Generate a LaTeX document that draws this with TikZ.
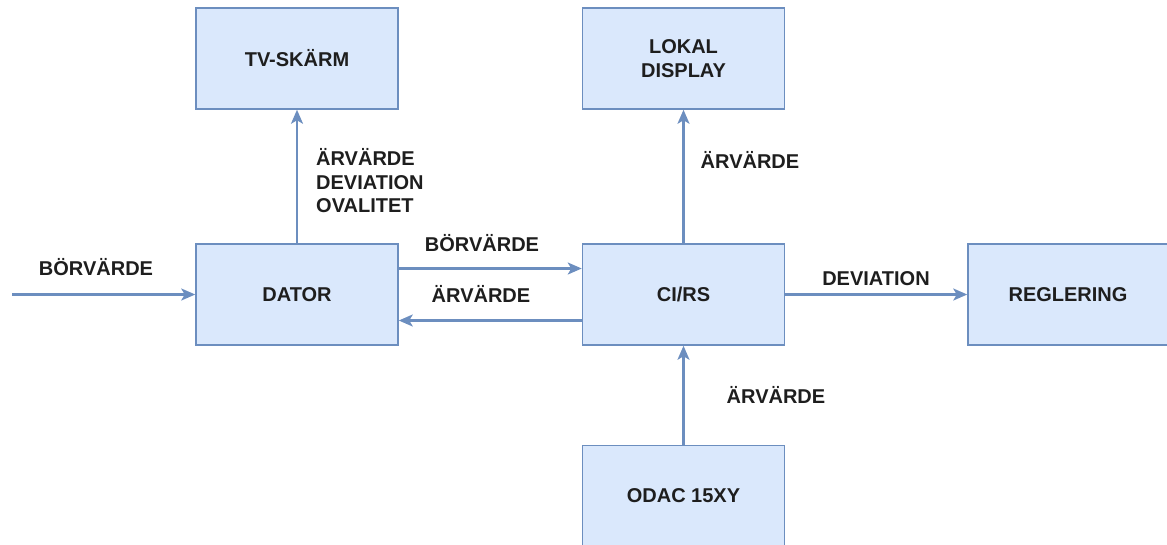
\documentclass[tikz,border=0pt]{standalone}
\usepackage{fontspec}
\setmainfont{Liberation Sans}
\usepackage{xcolor}
\usepackage{tikz}
\usetikzlibrary{arrows.meta}
\definecolor{boxfill}{HTML}{DAE8FC}
\definecolor{boxline}{HTML}{6C8EBF}
\definecolor{txt}{HTML}{1E1E1E}

\begin{document}
\begin{tikzpicture}[x=1pt,y=-1pt,
  box/.style={draw=boxline,fill=boxfill,line width=1.5pt,minimum width=202pt,
   minimum height=101pt,align=center,font=\fontsize{20}{24}\selectfont\bfseries,text=txt},
  flow/.style={draw=boxline,line width=2.2pt,-{Stealth[length=14pt,width=12pt,inset=3.5pt]}},
  lbl/.style={font=\fontsize{20}{23.5}\selectfont\bfseries,text=txt,inner sep=0pt,
   text height=14pt,text depth=0pt}]
 \useasboundingbox (0,0) rectangle (1167,544);
 \node[box] (tv) at (297,58.5) {TV-SKÄRM};
 \node[box] (lokal) at (683.5,58.5) {LOKAL\\DISPLAY};
 \node[box] (dator) at (297,294.5) {DATOR};
 \node[box] (cirs) at (683.5,294.5) {CI/RS};
 \node[box,minimum width=200pt] (regl) at (1068,294.5) {REGLERING};
 \node[box] (odac) at (683.5,496) {ODAC 15XY};
 \coordinate (in) at (12,294.5);
 % connectors
 \draw[flow] (in) -- (dator.west);
 \draw[flow] (dator.north) -- (tv.south);
 \draw[flow] (cirs.north) -- (lokal.south);
 \draw[flow] (odac.north) -- (cirs.south);
 \draw[flow] ([yshift=26pt]dator.east) -- ([yshift=26pt]cirs.west);
 \draw[flow] ([yshift=-26pt]cirs.west) -- ([yshift=-26pt]dator.east);
 \draw[flow] (cirs.east) -- (regl.west);
 % labels
 \node[lbl] (l_in) at (96,268) {BÖRVÄRDE};
 \node[lbl] (l_bor) at (482,244) {BÖRVÄRDE};
 \node[lbl] (l_ar) at (481,295) {ÄRVÄRDE};
 \node[lbl] (l_dev) at (876,278) {DEVIATION};
 \node[lbl] (l_lok) at (750,161) {ÄRVÄRDE};
 \node[lbl] (l_odac) at (776,396) {ÄRVÄRDE};
 \node[lbl,anchor=west,align=left,text height=,text depth=] (l_tv) at (316,181)
  {ÄRVÄRDE\\DEVIATION\\OVALITET};
\end{tikzpicture}
\end{document}
